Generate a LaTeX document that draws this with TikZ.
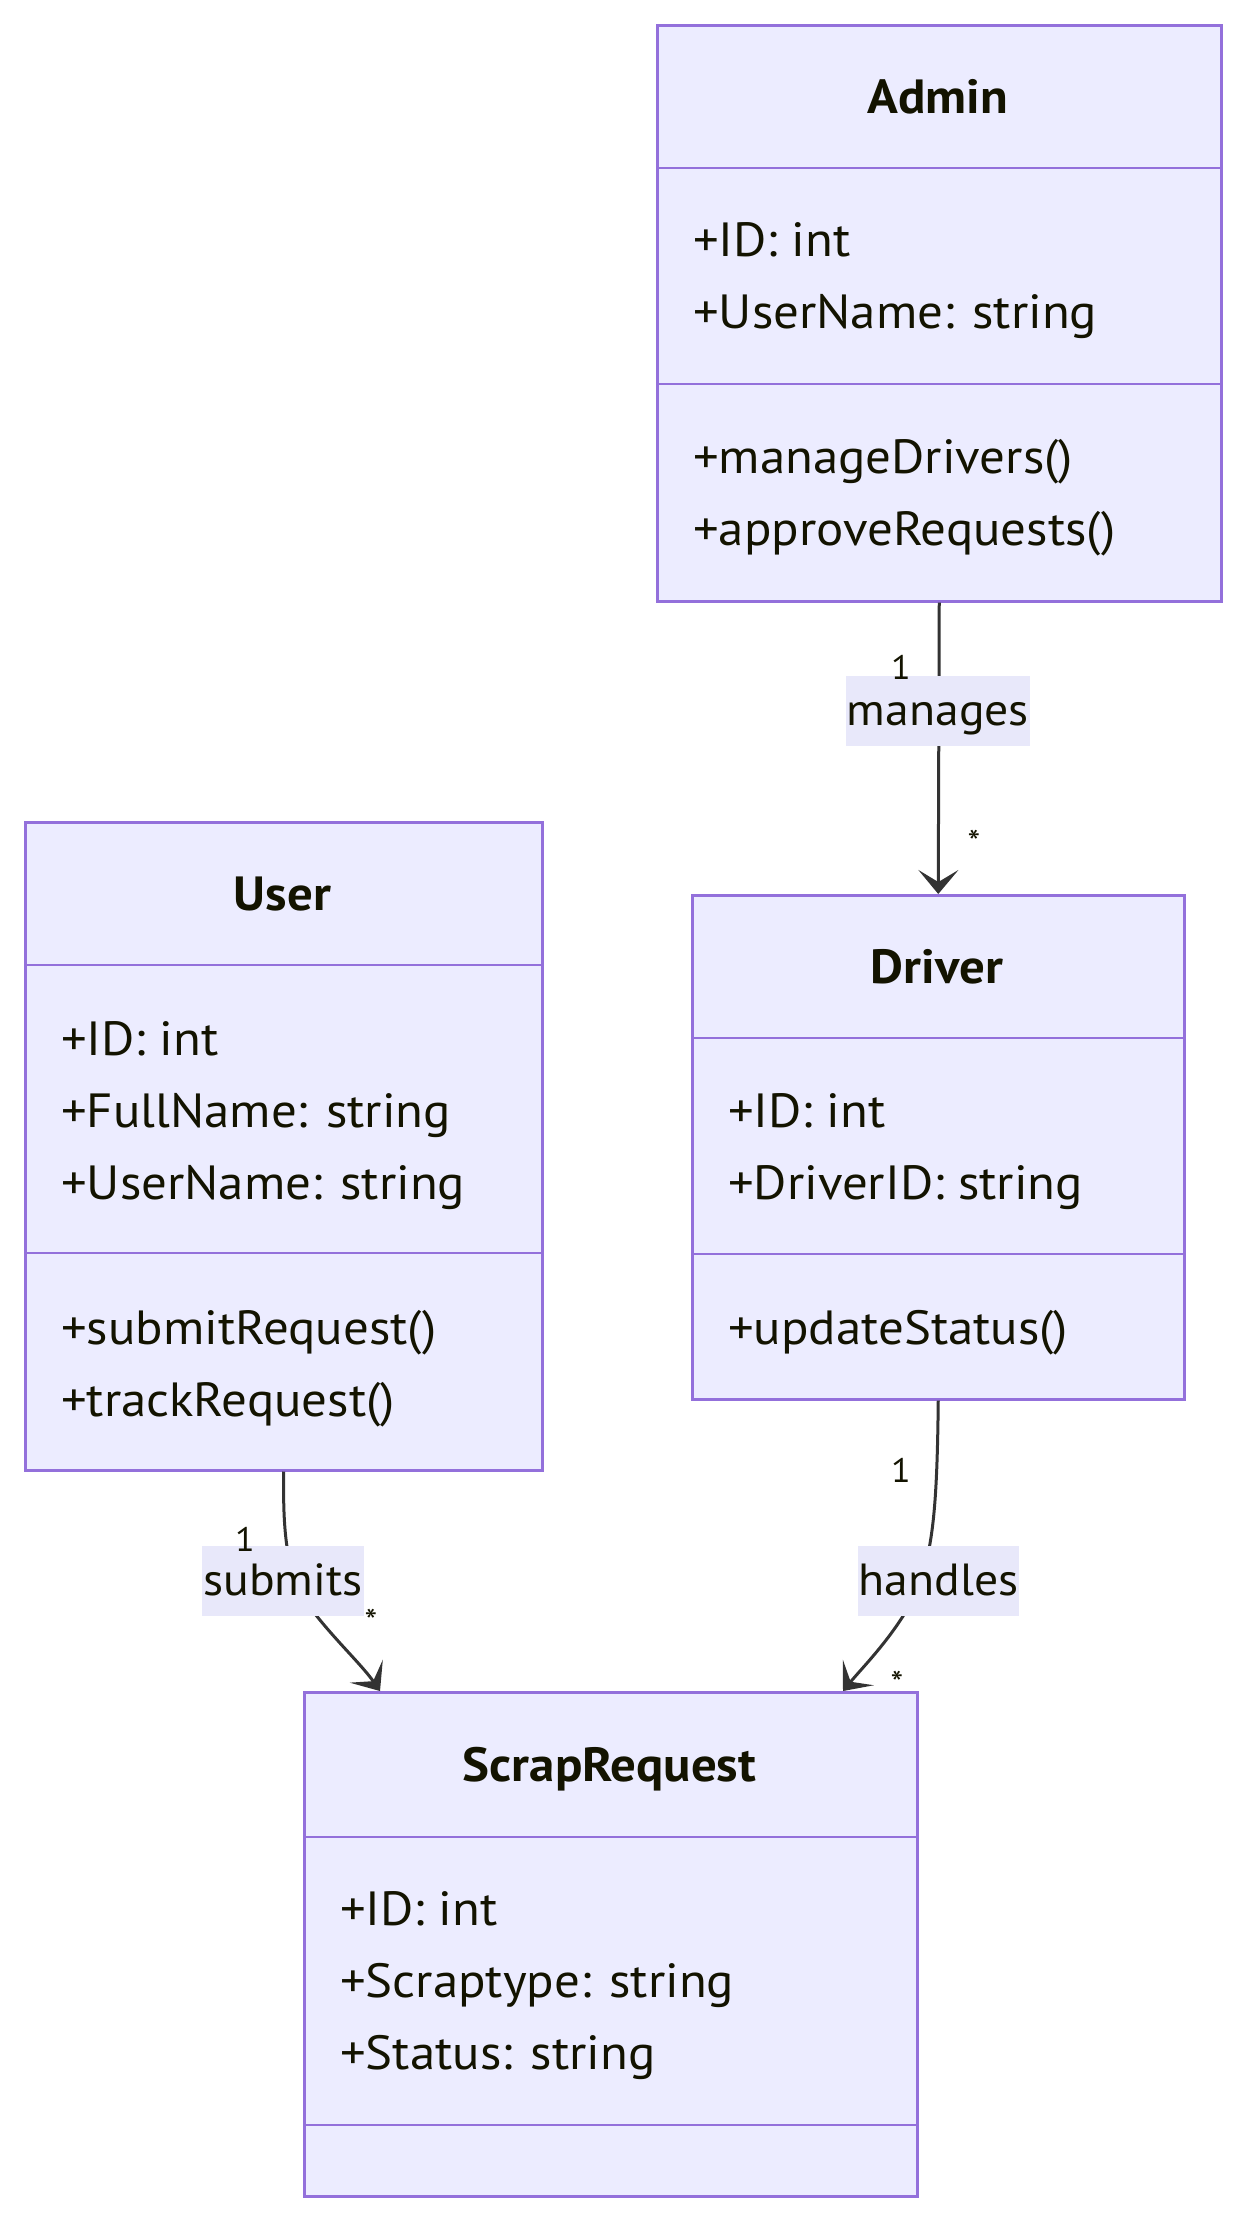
\documentclass[tikz,border=0pt]{standalone}
\usepackage{fontspec}
\setmainfont{PT Sans}[FakeStretch=1.06]
\usetikzlibrary{arrows.meta}
\definecolor{classfill}{HTML}{ECECFF}
\definecolor{classline}{HTML}{9370DB}
\definecolor{classtext}{HTML}{131300}
\definecolor{edgeline}{HTML}{333333}
\definecolor{labelfill}{HTML}{E8E8FA}
\begin{document}
\begin{tikzpicture}[x=1pt,y=-1pt,
  classbox/.style={draw=classline,fill=classfill,line width=2.5pt,anchor=north west,inner sep=0pt},
  sep/.style={draw=classline,line width=2.5pt},
  title/.style={anchor=base,font=\fontsize{48}{58}\selectfont\bfseries,text=classtext,inner sep=0pt},
  member/.style={anchor=base west,font=\fontsize{48}{58}\selectfont,text=classtext,inner sep=0pt},
  edge/.style={draw=edgeline,line width=3pt,-{Stealth[length=24pt,width=40pt,inset=12pt]}},
  edgelabel/.style={fill=labelfill,font=\fontsize{45}{56}\selectfont,text=classtext,inner xsep=1pt,inner ysep=0pt,
    text height=38pt,text depth=10pt,minimum height=70pt},
  mult/.style={font=\fontsize{34}{40}\selectfont,text=classtext,inner sep=0pt}]
\useasboundingbox (0,0) rectangle (1245,2220);

% Admin
\node[classbox,minimum width=564pt,minimum height=576pt] (admin) at (656,24) {};
\draw[sep] (656,168) -- (1220,168);
\draw[sep] (656,384) -- (1220,384);
\node[title] (admin-name) at (938,113) {Admin};
\node[member] (admin-a1) at (693,256) {+ID: int};
\node[member] (admin-a2) at (693,328) {+UserName: string};
\node[member] (admin-m1) at (693,473) {+manageDrivers()};
\node[member] (admin-m2) at (693,545) {+approveRequests()};

% User
\node[classbox,minimum width=517pt,minimum height=648pt] (user) at (24,821) {};
\draw[sep] (24,965) -- (541,965);
\draw[sep] (24,1253) -- (541,1253);
\node[title] (user-name) at (282.5,910) {User};
\node[member] (user-a1) at (61,1055) {+ID: int};
\node[member] (user-a2) at (61,1127) {+FullName: string};
\node[member] (user-a3) at (61,1199) {+UserName: string};
\node[member] (user-m1) at (61,1344) {+submitRequest()};
\node[member] (user-m2) at (61,1416) {+trackRequest()};

% Driver
\node[classbox,minimum width=492pt,minimum height=504pt] (driver) at (691,894) {};
\draw[sep] (691,1038) -- (1183,1038);
\draw[sep] (691,1254) -- (1183,1254);
\node[title] (driver-name) at (937,983) {Driver};
\node[member] (driver-a1) at (728,1127) {+ID: int};
\node[member] (driver-a2) at (728,1199) {+DriverID: string};
\node[member] (driver-m1) at (728,1344) {+updateStatus()};

% ScrapRequest
\node[classbox,minimum width=613pt,minimum height=504pt] (scrap) at (303,1691) {};
\draw[sep] (303,1837) -- (916,1837);
\draw[sep] (303,2125) -- (916,2125);
\node[title] (scrap-name) at (609.5,1781) {ScrapRequest};
\node[member] (scrap-a1) at (340,1925) {+ID: int};
\node[member] (scrap-a2) at (340,1997) {+Scraptype: string};
\node[member] (scrap-a3) at (340,2069) {+Status: string};

% Associations
\coordinate (scrap-in-left) at ([xshift=77pt]scrap.north west);
\coordinate (scrap-in-right) at ([xshift=540pt]scrap.north west);
\draw[edge] (admin.south) -- (driver.north);
\draw[edge] (user.south) .. controls (282.5,1540) and (288,1580) .. (312,1610)
  .. controls (335,1640) and (362,1665) .. (scrap-in-left);
\draw[edge] (driver.south) .. controls (937,1520) and (932,1565) .. (908,1608)
  .. controls (888,1642) and (862,1668) .. (scrap-in-right);

% Association labels
\node[edgelabel] (lbl-manages) at (938,711) {manages};
\node[edgelabel] (lbl-submits) at (283,1581) {submits};
\node[edgelabel] (lbl-handles) at (938.5,1581) {handles};

% Multiplicities
\node[mult] (m-admin) at (901,667) {1};
\node[mult] (m-driver-top) at (974,842) {*};
\node[mult] (m-user) at (245,1539) {1};
\node[mult] (m-scrap-left) at (371,1621) {*};
\node[mult] (m-driver-bottom) at (901,1470) {1};
\node[mult] (m-scrap-right) at (897,1683) {*};
\end{tikzpicture}
\end{document}
